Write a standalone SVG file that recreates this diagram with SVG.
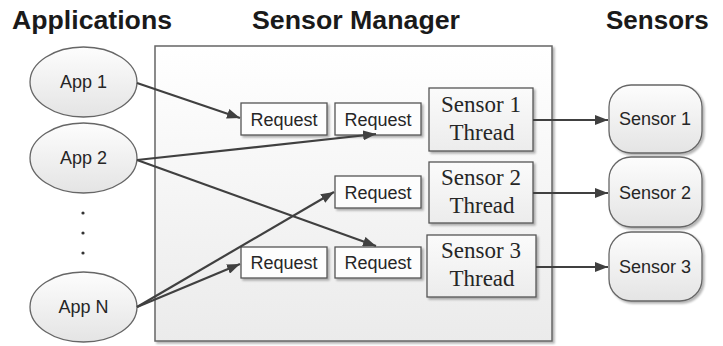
<svg xmlns="http://www.w3.org/2000/svg" width="723" height="346" viewBox="0 0 723 346">
<style>
.title{font-family:"Liberation Sans",Arial,sans-serif;font-weight:bold;font-size:26px;fill:#1a1a1a}
.lbl{font-family:"Liberation Sans",Arial,sans-serif;font-size:18px;fill:#262626;text-anchor:middle}
.ser{font-family:"Liberation Serif","Times New Roman",serif;font-size:23px;fill:#262626;text-anchor:middle}
.box{stroke:#555;stroke-width:1.3}
.conn{stroke:#404040;stroke-width:2.2;fill:none;marker-end:url(#ah)}
</style>
<defs>
<linearGradient id="gMgr" x1="0" y1="0" x2="0" y2="1"><stop offset="0" stop-color="#ffffff"/><stop offset="1" stop-color="#ebebeb"/></linearGradient>
<linearGradient id="gEl" x1="0" y1="0" x2="0" y2="1"><stop offset="0" stop-color="#fdfdfd"/><stop offset="1" stop-color="#e4e4e4"/></linearGradient>
<linearGradient id="gBox" x1="0" y1="0" x2="0" y2="1"><stop offset="0" stop-color="#fbfbfb"/><stop offset="1" stop-color="#ececec"/></linearGradient>
<marker id="ah" markerUnits="userSpaceOnUse" markerWidth="14" markerHeight="10" refX="13" refY="5" orient="auto"><path d="M0,0 L13,5 L0,10 z" fill="#404040"/></marker>
<filter id="sh" x="-10%" y="-10%" width="130%" height="130%"><feGaussianBlur in="SourceAlpha" stdDeviation="1.2"/><feOffset dx="1.5" dy="1.5"/><feComponentTransfer><feFuncA type="linear" slope="0.3"/></feComponentTransfer><feMerge><feMergeNode/><feMergeNode in="SourceGraphic"/></feMerge></filter>
</defs>
<rect width="723" height="346" fill="#ffffff"/>
<g id="titles">
<text class="title" x="12" y="29" textLength="160" lengthAdjust="spacingAndGlyphs">Applications</text>
<text class="title" x="252" y="29" textLength="208" lengthAdjust="spacingAndGlyphs">Sensor Manager</text>
<text class="title" x="606" y="29">Sensors</text>
</g>
<g id="sensor-manager"><rect x="155" y="46" width="397" height="295" fill="url(#gMgr)" stroke="#666" stroke-width="1.5" filter="url(#sh)"/></g>
<g id="app1"><ellipse cx="83.5" cy="82" rx="53.5" ry="35" fill="url(#gEl)" stroke="#666" stroke-width="1.3"/><text class="lbl" x="83.5" y="88">App 1</text></g>
<g id="app2"><ellipse cx="83.5" cy="158" rx="53.5" ry="35" fill="url(#gEl)" stroke="#666" stroke-width="1.3"/><text class="lbl" x="83.5" y="164">App 2</text></g>
<g id="dots" fill="#333"><circle cx="83" cy="213" r="1.6"/><circle cx="83" cy="233" r="1.6"/><circle cx="83" cy="253" r="1.6"/></g>
<g id="appN"><ellipse cx="83.5" cy="307" rx="53.5" ry="35" fill="url(#gEl)" stroke="#666" stroke-width="1.3"/><text class="lbl" x="83.5" y="313">App N</text></g>
<g id="req1a"><rect class="box" x="241" y="103" width="86" height="32" fill="#fdfdfd" filter="url(#sh)"/><text class="lbl" x="284" y="125.5">Request</text></g>
<g id="req1b"><rect class="box" x="335" y="103" width="86" height="32" fill="#fdfdfd" filter="url(#sh)"/><text class="lbl" x="378" y="125.5">Request</text></g>
<g id="req2"><rect class="box" x="335" y="176" width="86" height="32" fill="#fdfdfd" filter="url(#sh)"/><text class="lbl" x="378" y="198.5">Request</text></g>
<g id="req3a"><rect class="box" x="241" y="247" width="86" height="31" fill="#fdfdfd" filter="url(#sh)"/><text class="lbl" x="284" y="269">Request</text></g>
<g id="req3b"><rect class="box" x="335" y="247" width="86" height="31" fill="#fdfdfd" filter="url(#sh)"/><text class="lbl" x="378" y="269">Request</text></g>
<g id="thread1"><rect class="box" x="429" y="88" width="104" height="63" fill="url(#gBox)" filter="url(#sh)"/><text class="ser" x="481" y="111.5">Sensor 1</text><text class="ser" x="482" y="139.5">Thread</text></g>
<g id="thread2"><rect class="box" x="429" y="162" width="104" height="61" fill="url(#gBox)" filter="url(#sh)"/><text class="ser" x="481" y="184.5">Sensor 2</text><text class="ser" x="482" y="213">Thread</text></g>
<g id="thread3"><rect class="box" x="427" y="235" width="109" height="62" fill="url(#gBox)" filter="url(#sh)"/><text class="ser" x="481" y="257.5">Sensor 3</text><text class="ser" x="482" y="286">Thread</text></g>
<g id="sensor1"><rect x="609" y="85" width="93" height="68" rx="22" fill="url(#gEl)" stroke="#666" stroke-width="1.3" filter="url(#sh)"/><text class="lbl" x="655" y="125">Sensor 1</text></g>
<g id="sensor2"><rect x="609" y="157" width="93" height="70" rx="22" fill="url(#gEl)" stroke="#666" stroke-width="1.3" filter="url(#sh)"/><text class="lbl" x="655" y="198.5">Sensor 2</text></g>
<g id="sensor3"><rect x="609" y="232" width="93" height="69" rx="22" fill="url(#gEl)" stroke="#666" stroke-width="1.3" filter="url(#sh)"/><text class="lbl" x="655" y="273">Sensor 3</text></g>
<g id="connectors">
<line class="conn" x1="137" y1="83" x2="240" y2="118"/>
<line class="conn" x1="137" y1="160" x2="376" y2="134"/>
<line class="conn" x1="137" y1="160" x2="376" y2="246"/>
<line class="conn" x1="137" y1="307" x2="334" y2="192"/>
<line class="conn" x1="137" y1="307" x2="240" y2="264"/>
<line class="conn" x1="533" y1="120" x2="608" y2="120"/>
<line class="conn" x1="533" y1="193" x2="608" y2="193"/>
<line class="conn" x1="536" y1="267" x2="608" y2="267"/>
</g>
</svg>
